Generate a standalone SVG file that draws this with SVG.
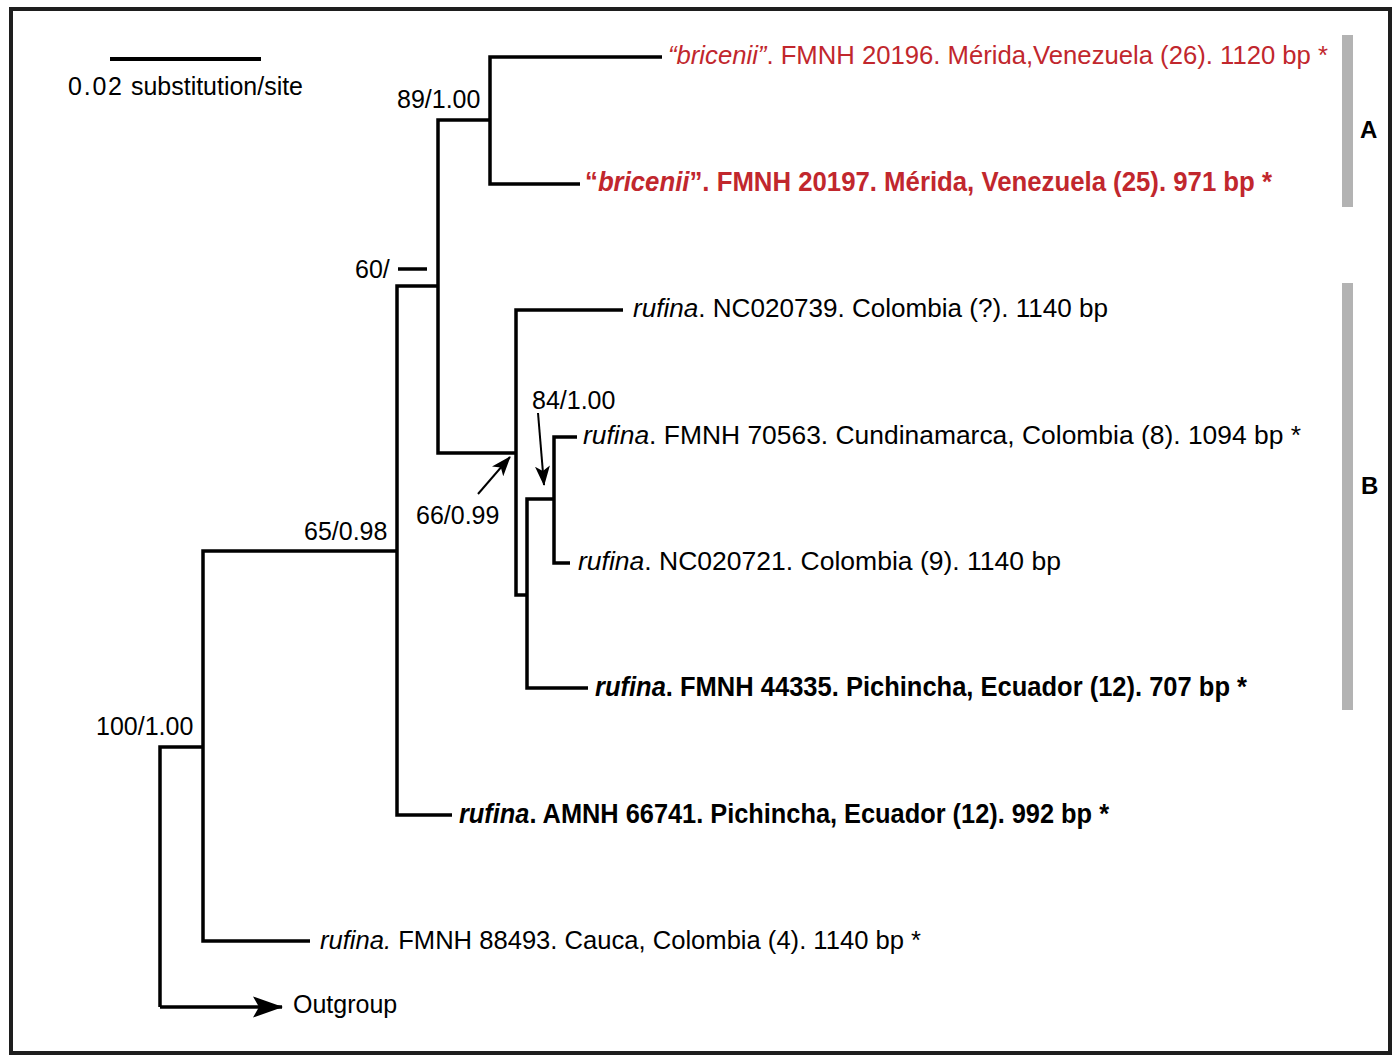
<svg xmlns="http://www.w3.org/2000/svg" width="1393" height="1055" viewBox="0 0 1393 1055">
<style>
text{font-family:"Liberation Sans",Arial,sans-serif;fill:#000}
.num{font-size:25px}
.tax{font-size:26px}
.bold{font-size:27px;font-weight:bold}
.red{fill:#c1272d}
.it{font-style:italic}
.br{fill:none;stroke:#000;stroke-width:3.5;stroke-linejoin:miter;stroke-linecap:butt}
.thin{fill:none;stroke:#000;stroke-width:2}
.bar{fill:#b3b3b3}
.cl{font-size:24px;font-weight:bold}
</style>
<defs>
<marker id="arS" markerUnits="userSpaceOnUse" markerWidth="20" markerHeight="15" refX="19" refY="7.5" orient="auto" viewBox="0 0 20 15">
<path d="M0,0 L20,7.5 L0,15 L5,7.5 z" fill="#000"/>
</marker>
<marker id="arL" markerUnits="userSpaceOnUse" markerWidth="30" markerHeight="22" refX="29" refY="11" orient="auto" viewBox="0 0 30 22">
<path d="M0,0.5 L30,11 L0,21.5 L6,11 z" fill="#000"/>
</marker>
</defs>
<rect x="11" y="9" width="1379" height="1044" fill="#fff" stroke="#1e1e1e" stroke-width="4"/>
<g id="scale">
<line x1="110" y1="59" x2="261" y2="59" stroke="#000" stroke-width="4"/>
<text class="num" x="68" y="95"><tspan textLength="54" lengthAdjust="spacing">0.02</tspan><tspan x="131" textLength="172" lengthAdjust="spacingAndGlyphs">substitution/site</tspan></text>
</g>
<g id="connectors">
<path class="br" d="M160,1007 L160,747 L203,747"/>
<line class="br" x1="160" y1="1007" x2="282" y2="1007" marker-end="url(#arL)"/>
<path class="br" d="M310,941 L203,941 L203,551 L397,551"/>
<path class="br" d="M452,815 L397,815 L397,286 L438,286"/>
<path class="br" d="M398,269 L427,269"/>
<path class="br" d="M490,120 L438,120 L438,453 L516,453"/>
<path class="br" d="M662,57 L490,57 L490,184 L580,184"/>
<path class="br" d="M623,310 L516,310 L516,595 L527,595"/>
<path class="br" d="M588,688 L527,688 L527,499 L554,499"/>
<path class="br" d="M577,437 L554,437 L554,563 L570,563"/>
<line class="thin" x1="478" y1="494" x2="510" y2="457" marker-end="url(#arS)"/>
<line class="thin" x1="538" y1="413" x2="544" y2="485" marker-end="url(#arS)"/>
</g>
<g id="support-labels">
<text class="num" x="96" y="735">100/1.00</text>
<text class="num" x="304" y="540">65/0.98</text>
<text class="num" x="355" y="278">60/</text>
<text class="num" x="397" y="108">89/1.00</text>
<text class="num" x="416" y="524">66/0.99</text>
<text class="num" x="532" y="409">84/1.00</text>
</g>
<g id="taxon-bricenii-20196">
<text class="tax red" x="668" y="64" textLength="660" lengthAdjust="spacingAndGlyphs"><tspan class="it">“bricenii”</tspan>. FMNH 20196. Mérida,Venezuela (26). 1120 bp *</text>
</g>
<g id="taxon-bricenii-20197">
<text class="bold red" x="585" y="191" textLength="687" lengthAdjust="spacingAndGlyphs">“<tspan class="it">bricenii</tspan>”. FMNH 20197. Mérida, Venezuela (25). 971 bp *</text>
</g>
<g id="taxon-NC020739">
<text class="tax" x="633" y="317" textLength="475" lengthAdjust="spacingAndGlyphs"><tspan class="it">rufina</tspan>. NC020739. Colombia (?). 1140 bp</text>
</g>
<g id="taxon-FMNH70563">
<text class="tax" x="583" y="444" textLength="718" lengthAdjust="spacingAndGlyphs"><tspan class="it">rufina</tspan>. FMNH 70563. Cundinamarca, Colombia (8). 1094 bp *</text>
</g>
<g id="taxon-NC020721">
<text class="tax" x="578" y="570" textLength="483" lengthAdjust="spacingAndGlyphs"><tspan class="it">rufina</tspan>. NC020721. Colombia (9). 1140 bp</text>
</g>
<g id="taxon-FMNH44335">
<text class="bold" x="595" y="696" textLength="652" lengthAdjust="spacingAndGlyphs"><tspan class="it">rufina</tspan>. FMNH 44335. Pichincha, Ecuador (12). 707 bp *</text>
</g>
<g id="taxon-AMNH66741">
<text class="bold" x="459" y="823" textLength="650" lengthAdjust="spacingAndGlyphs"><tspan class="it">rufina</tspan>. AMNH 66741. Pichincha, Ecuador (12). 992 bp *</text>
</g>
<g id="taxon-FMNH88493">
<text class="tax" x="320" y="949" textLength="601" lengthAdjust="spacingAndGlyphs"><tspan class="it">rufina.</tspan> FMNH 88493. Cauca, Colombia (4). 1140 bp *</text>
</g>
<g id="outgroup">
<text class="num" x="293" y="1013">Outgroup</text>
</g>
<g id="clade-A">
<rect class="bar" x="1342" y="35" width="11" height="172"/>
<text class="cl" x="1360" y="138">A</text>
</g>
<g id="clade-B">
<rect class="bar" x="1342" y="283" width="11" height="427"/>
<text class="cl" x="1361" y="494">B</text>
</g>
</svg>
